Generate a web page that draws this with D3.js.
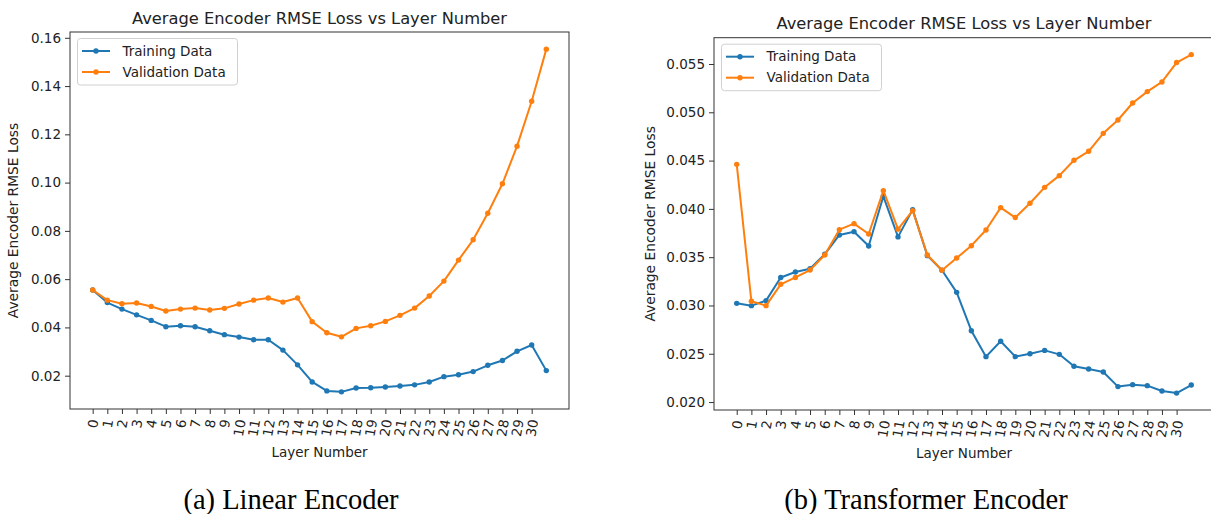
<!DOCTYPE html>
<html>
<head>
<meta charset="utf-8">
<script src="https://cdn.jsdelivr.net/npm/d3@7"></script>
<style>
  html, body { margin: 0; padding: 0; background: #fff; }
  svg { display: block; font-family: "DejaVu Sans", sans-serif; }
</style>
</head>
<body>
<svg id="fig" width="1211" height="514"></svg>
<script>
// layer index 0..31, ticks only go to 30
const layers = d3.range(0, 32);
const layerTicks = d3.range(0, 31);

// (a) Linear encoder
const linearTrain = [0.0555, 0.0503, 0.0476, 0.0452, 0.0429, 0.0403, 0.0407, 0.0403, 0.0386, 0.0370,
  0.0360, 0.0349, 0.0349, 0.0306, 0.0245, 0.0174, 0.0137, 0.0133, 0.0149, 0.0150,
  0.0153, 0.0157, 0.0162, 0.0174, 0.0196, 0.0204, 0.0217, 0.0243, 0.0263, 0.0301,
  0.0327, 0.0221];
const linearVal = [0.0555, 0.0513, 0.0498, 0.0501, 0.0487, 0.0468, 0.0476, 0.0480, 0.0472, 0.0479,
  0.0497, 0.0513, 0.0522, 0.0505, 0.0522, 0.0424, 0.0378, 0.0361, 0.0396, 0.0407,
  0.0425, 0.0450, 0.0480, 0.0530, 0.0592, 0.0679, 0.0763, 0.0873, 0.0995, 0.1151,
  0.1337, 0.1553];
const linearYTicks = [0.02, 0.04, 0.06, 0.08, 0.10, 0.12, 0.14, 0.16];

// (b) Transformer encoder
const transTrain = [0.03022, 0.02998, 0.0305, 0.0329, 0.03346, 0.03381, 0.0353, 0.0373, 0.03764, 0.03616,
  0.0413, 0.0371, 0.03992, 0.03516, 0.03364, 0.03136, 0.02739, 0.0247, 0.02629, 0.0247,
  0.0250, 0.02535, 0.02494, 0.0237, 0.02342, 0.02311, 0.0216, 0.0218, 0.0217, 0.02114,
  0.02093, 0.02176];
const transVal = [0.04461, 0.03043, 0.02998, 0.03219, 0.0329, 0.03367, 0.03522, 0.03785, 0.03847, 0.0374,
  0.04189, 0.0379, 0.03982, 0.03522, 0.03364, 0.03491, 0.03619, 0.03781, 0.04013, 0.0391,
  0.04058, 0.04223, 0.04344, 0.04503, 0.04596, 0.04782, 0.0492, 0.05096, 0.05214, 0.05314,
  0.05515, 0.05597];
const transYTicks = [0.020, 0.025, 0.030, 0.035, 0.040, 0.045, 0.050, 0.055];

const seriesNames = ["Training Data", "Validation Data"];
const COL = ["#1f77b4", "#ff7f0e"];
const TXT = "#222";
const FS = 13.5;

const svg = d3.select("#fig");

function panel(cfg) {
  const { left, right, top, bottom } = cfg.box;
  const g = svg.append("g");
  const x = d3.scaleLinear().domain([-1.55, 32.55]).range([left, right]);
  const all = cfg.train.concat(cfg.val);
  const lo = d3.min(all), hi = d3.max(all), pad = (hi - lo) * 0.05;
  const y = d3.scaleLinear().domain([lo - pad, hi + pad]).range([bottom, top]);

  // frame
  g.append("rect").attr("x", left).attr("y", top).attr("width", right - left).attr("height", bottom - top)
    .attr("fill", "none").attr("stroke", "#333").attr("stroke-width", 1);

  // y axis
  const ya = g.append("g").attr("transform", `translate(${left},0)`)
    .call(d3.axisLeft(y).tickValues(cfg.yTicks).tickFormat(d3.format(cfg.yFmt)).tickSize(5).tickPadding(4).tickSizeOuter(0));
  ya.select(".domain").remove();
  ya.selectAll("line").attr("stroke", "#333");
  ya.selectAll("text").attr("font-size", FS).attr("fill", TXT).attr("font-family", "DejaVu Sans");

  // x axis, rotated tick labels
  const xa = g.append("g").attr("transform", `translate(0,${bottom})`)
    .call(d3.axisBottom(x).tickValues(layerTicks).tickFormat(d3.format("d")).tickSize(5).tickSizeOuter(0));
  xa.select(".domain").remove();
  xa.selectAll("line").attr("stroke", "#333");
  xa.selectAll("text").attr("font-size", FS).attr("fill", TXT).attr("font-family", "DejaVu Sans")
    .attr("x", 0).attr("y", 0).attr("dy", "0.35em").attr("text-anchor", "end")
    .attr("transform", function () {
      const L = this.getComputedTextLength();
      return `translate(${0.085 * L},10.5) rotate(-80)`;
    });

  // lines + markers
  const line = d3.line().x((d, i) => x(layers[i])).y((d) => y(d));
  [cfg.train, cfg.val].forEach((s, k) => {
    g.append("path").datum(s).attr("fill", "none").attr("stroke", COL[k]).attr("stroke-width", 2)
      .attr("stroke-linejoin", "round").attr("d", line);
    g.append("g").selectAll("circle").data(s).join("circle")
      .attr("cx", (d, i) => x(layers[i])).attr("cy", (d) => y(d)).attr("r", 2.7).attr("fill", COL[k]);
  });

  // legend
  const lg = g.append("g").attr("transform", `translate(${left + 7.5},${top + 6.5})`);
  lg.append("rect").attr("width", 160).attr("height", 46.5).attr("rx", 3)
    .attr("fill", "#fff").attr("fill-opacity", 0.8).attr("stroke", "#d0d0d0");
  seriesNames.forEach((n, k) => {
    const yy = 12.5 + k * 21;
    lg.append("line").attr("x1", 4.5).attr("x2", 32.5).attr("y1", yy).attr("y2", yy)
      .attr("stroke", COL[k]).attr("stroke-width", 2);
    lg.append("circle").attr("cx", 18.5).attr("cy", yy).attr("r", 2.7).attr("fill", COL[k]);
    lg.append("text").attr("x", 45).attr("y", yy).attr("dy", "0.35em").attr("font-size", FS).attr("fill", TXT).text(n);
  });

  // titles / labels
  const cx = (left + right) / 2;
  g.append("text").attr("x", cx).attr("y", top - 8.5).attr("text-anchor", "middle")
    .attr("font-size", 16.3).attr("fill", TXT).text("Average Encoder RMSE Loss vs Layer Number");
  g.append("text").attr("x", cx).attr("y", bottom + 48).attr("text-anchor", "middle")
    .attr("font-size", FS).attr("fill", TXT).text("Layer Number");
  g.append("text").attr("transform", `translate(${cfg.ylabX},${(top + bottom) / 2}) rotate(-90)`)
    .attr("text-anchor", "middle").attr("dy", "0.35em").attr("font-size", 13.8).attr("fill", TXT)
    .text("Average Encoder RMSE Loss");
  svg.append("text").attr("x", cfg.capX).attr("y", 509).attr("text-anchor", "middle")
    .attr("font-family", "Liberation Serif, Times New Roman, serif").attr("font-size", 28.5).attr("fill", "#000")
    .text(cfg.caption);
}

panel({ box: { left: 70, right: 569, top: 32, bottom: 409 }, train: linearTrain, val: linearVal,
  yTicks: linearYTicks, yFmt: ".2f", ylabX: 13.5, capX: 291, caption: "(a) Linear Encoder" });
panel({ box: { left: 714, right: 1214, top: 37.7, bottom: 410 }, train: transTrain, val: transVal,
  yTicks: transYTicks, yFmt: ".3f", ylabX: 650.5, capX: 926, caption: "(b) Transformer Encoder" });
</script>
</body>
</html>
